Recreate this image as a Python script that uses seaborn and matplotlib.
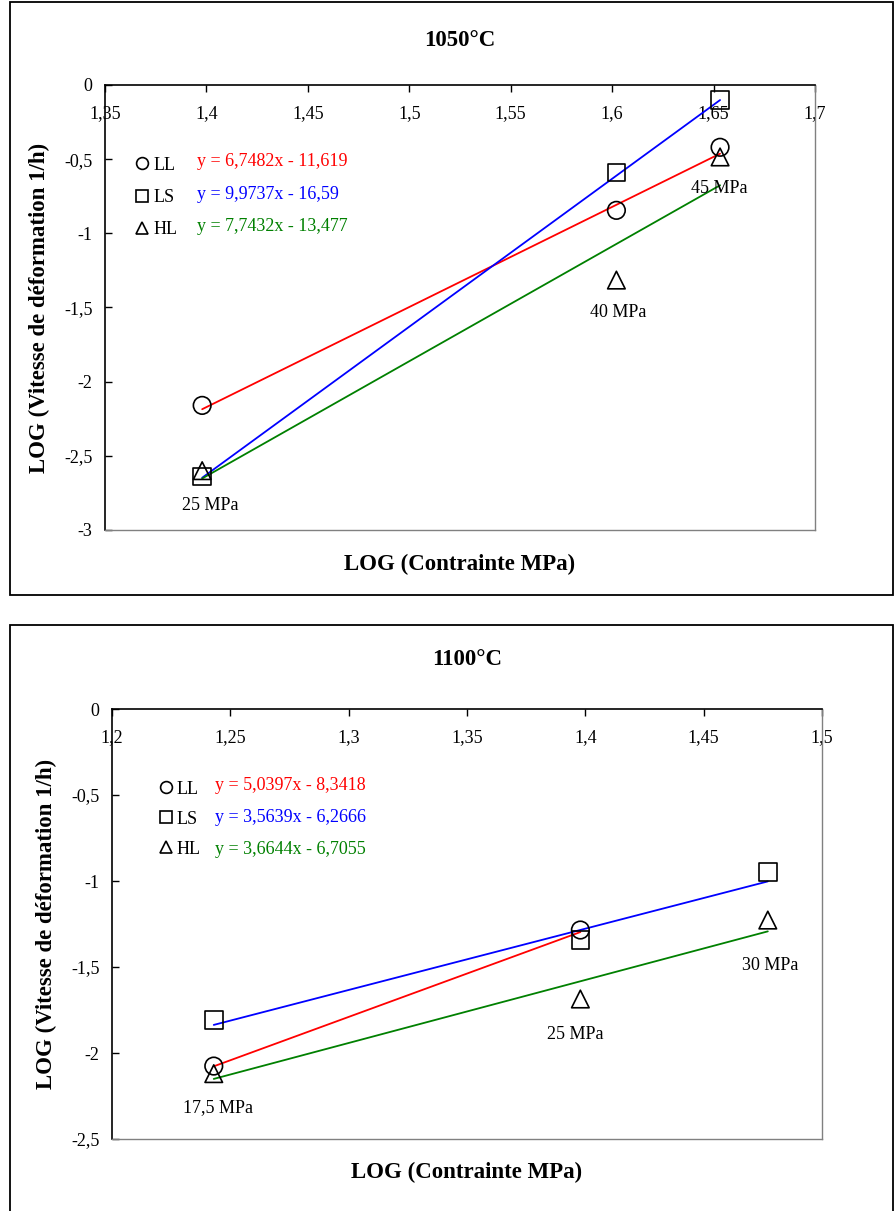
import numpy as np
import pandas as pd
import matplotlib
matplotlib.use("Agg")
import matplotlib.pyplot as plt
from matplotlib.patches import Rectangle
from matplotlib.lines import Line2D
from matplotlib.ticker import FuncFormatter
import seaborn as sns

# ---- data: 1050 C panel ----
stress_1050 = ["25 MPa", "40 MPa", "45 MPa"]
logx_1050 = [1.3979, 1.6021, 1.6532]
ll_1050 = [-2.16, -0.845, -0.42]
ls_1050 = [-2.64, -0.59, -0.10]
hl_1050 = [-2.60, -1.315, -0.485]
fit_1050 = {"LL": (6.7482, -11.619), "LS": (9.9737, -16.59), "HL": (7.7432, -13.477)}
eq_1050 = ["y = 6,7482x - 11,619", "y = 9,9737x - 16,59", "y = 7,7432x - 13,477"]

# ---- data: 1100 C panel ----
stress_1100 = ["17,5 MPa", "25 MPa", "30 MPa"]
logx_1100 = [1.2430, 1.3979, 1.4771]
ll_1100 = [-2.076, -1.285, np.nan]
ls_1100 = [-1.808, -1.343, -0.948]
hl_1100 = [-2.12, -1.686, -1.227]
fit_1100 = {"LL": (5.0397, -8.3418), "LS": (3.5639, -6.2666), "HL": (3.6644, -6.7055)}
eq_1100 = ["y = 5,0397x - 8,3418", "y = 3,5639x - 6,2666", "y = 3,6644x - 6,7055"]

series = ["LL", "LS", "HL"]
markers = {"LL": "o", "LS": "s", "HL": "^"}
colors = {"LL": "red", "LS": "blue", "HL": "green"}

sns.set_style("white")
plt.rcParams["font.family"] = ["Liberation Serif", "DejaVu Serif"]
for key in ["text.color", "axes.labelcolor", "xtick.color", "ytick.color"]:
    plt.rcParams[key] = "black"


def comma(v, pos):
    return ("%g" % round(v, 3)).replace(".", ",")


def make_panel(ax, title, logx, ys, fits, eqs, stress, xlim, ylim, xticks, yticks,
               label_pos, eq_x, eq_y, leg_anchor, leg_spacing, title_y):
    rows = []
    for name, vals in zip(series, ys):
        for x, y in zip(logx, vals):
            if not np.isnan(y):
                rows.append({"x": x, "y": y, "serie": name})
    df = pd.DataFrame(rows)

    # fitted lines from the regression equations, over the data range of each series
    lines = []
    for name in series:
        sub = df[df.serie == name]
        a, b = fits[name]
        for x in [sub.x.min(), sub.x.max()]:
            lines.append({"x": x, "y": a * x + b, "serie": name})
    ldf = pd.DataFrame(lines)
    sns.lineplot(data=ldf, x="x", y="y", hue="serie", palette=colors, lw=1.3,
                 legend=False, ax=ax, zorder=2)
    sns.scatterplot(data=df, x="x", y="y", style="serie", markers=markers,
                    s=160, facecolor="none", edgecolor="black", linewidth=1.2,
                    legend=False, ax=ax, zorder=3)

    ax.set_xlim(*xlim)
    ax.set_ylim(*ylim)
    ax.set_xticks(xticks)
    ax.set_yticks(yticks)
    ax.xaxis.set_major_formatter(FuncFormatter(comma))
    ax.yaxis.set_major_formatter(FuncFormatter(comma))
    ax.tick_params(axis="x", top=True, bottom=False, labeltop=True, labelbottom=False,
                   direction="in", length=5, width=1, pad=-27, labelsize=13)
    ax.tick_params(axis="y", left=True, direction="in", length=5, width=1,
                   pad=9, labelsize=13)
    for side in ["left", "top"]:
        ax.spines[side].set_color("black")
        ax.spines[side].set_linewidth(1.2)
    for side in ["right", "bottom"]:
        ax.spines[side].set_color("#808080")
        ax.spines[side].set_linewidth(1.0)
    ax.set_xlabel("")
    ax.set_ylabel("LOG (Vitesse de déformation 1/h)", fontsize=16.5, fontweight="bold",
                  labelpad=10)
    ax.text(0.5, -0.078, "LOG (Contrainte MPa)", transform=ax.transAxes, ha="center",
            va="center", fontsize=16.5, fontweight="bold")
    ax.text(0.5, title_y, title, transform=ax.transAxes, ha="center", va="center",
            fontsize=16.5, fontweight="bold")

    for txt, (lx, ly) in zip(stress, label_pos):
        ax.text(lx, ly, txt, ha="center", va="center", fontsize=13)

    handles = [Line2D([], [], ls="none", marker=markers[n], markersize=8.5,
                      markerfacecolor="none", markeredgecolor="black", mew=1.2)
               for n in series]
    ax.legend(handles, series, loc="upper left", bbox_to_anchor=leg_anchor, frameon=False,
              handlelength=0.6, handletextpad=0.3, labelspacing=leg_spacing,
              fontsize=13, borderaxespad=0)
    for txt, n, yy in zip(eqs, series, eq_y):
        ax.text(eq_x, yy, txt, transform=ax.transAxes, color=colors[n], ha="left",
                va="center", fontsize=13)


fig = plt.figure(figsize=(8.94, 12.11), dpi=100)
W, H = 894, 1211

# panel frames
fig.patches.append(Rectangle((10 / W, 1 - 595 / H), 883 / W, 593 / H, transform=fig.transFigure,
                             fill=False, ec="black", lw=1.3))
fig.patches.append(Rectangle((10 / W, 1 - 1215 / H), 883 / W, 590 / H, transform=fig.transFigure,
                             fill=False, ec="black", lw=1.3))

ax1 = fig.add_axes([105 / W, 1 - 530 / H, 710 / W, 445 / H])
make_panel(ax1, "1050°C", logx_1050, [ll_1050, ls_1050, hl_1050], fit_1050, eq_1050,
           stress_1050, (1.35, 1.7), (-3, 0),
           [1.35, 1.4, 1.45, 1.5, 1.55, 1.6, 1.65, 1.7], [0, -0.5, -1, -1.5, -2, -2.5, -3],
           [(1.4018, -2.832), (1.6029, -1.531), (1.653, -0.695)],
           0.1296, [0.827, 0.753, 0.681], (0.035, 0.855), 0.85, 1.101)

ax2 = fig.add_axes([112 / W, 1 - 1139 / H, 710 / W, 430 / H])
make_panel(ax2, "1100°C", logx_1100, [ll_1100, ls_1100, hl_1100], fit_1100, eq_1100,
           stress_1100, (1.2, 1.5), (-2.5, 0),
           [1.2, 1.25, 1.3, 1.35, 1.4, 1.45, 1.5], [0, -0.5, -1, -1.5, -2, -2.5],
           [(1.2448, -2.32), (1.3956, -1.895), (1.478, -1.494)],
           0.145, [0.821, 0.747, 0.674], (0.058, 0.85), 0.72, 1.114)

fig.savefig("out.png", dpi=100)
